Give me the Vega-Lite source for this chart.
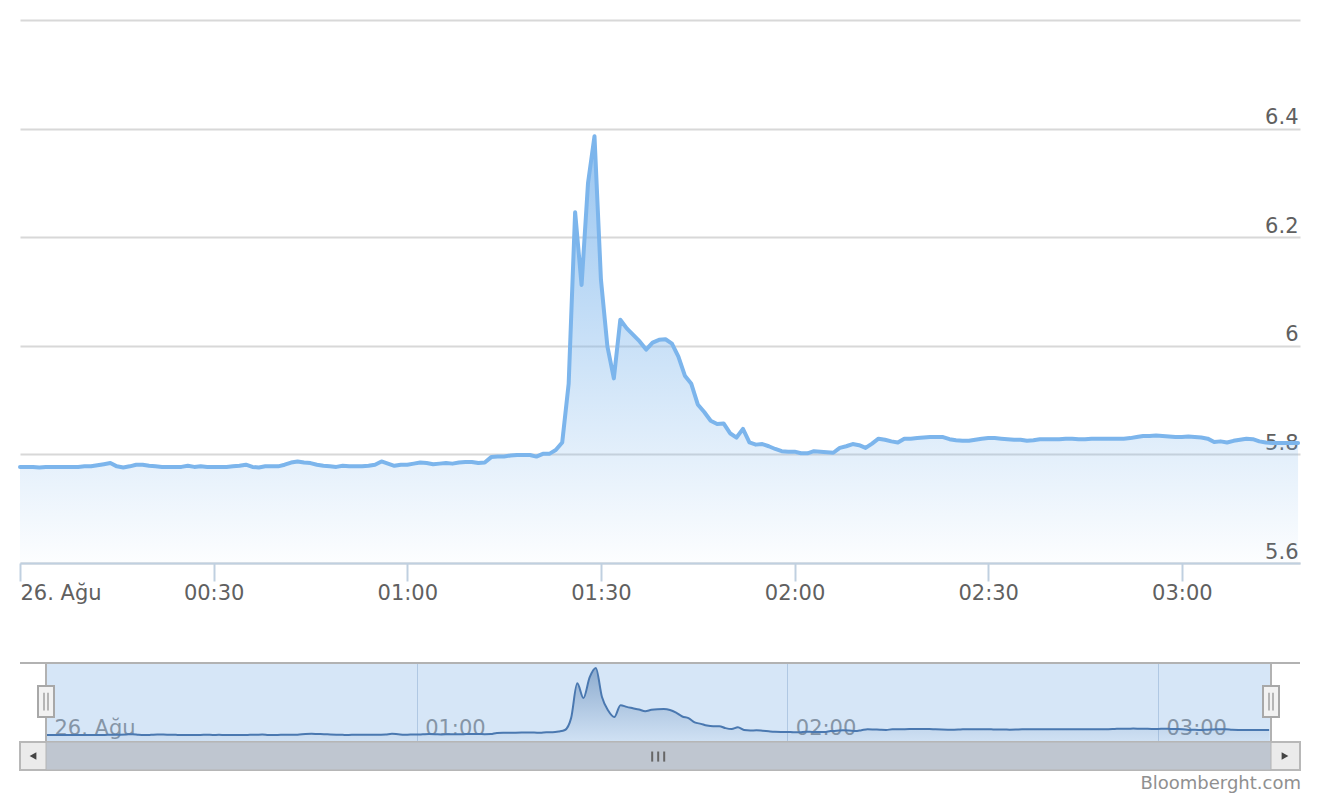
{
  "$schema": "https://vega.github.io/schema/vega-lite/v6.json",
  "padding": {"left": 18, "top": 20, "right": 22, "bottom": 6},
  "background": "white",
  "config": {"view": {"stroke": null}, "font": "DejaVu Sans"},
  "datasets": {
    "rates": [
      {"t":"2019-08-26T00:00Z","v":5.777},{"t":"2019-08-26T00:01Z","v":5.777},{"t":"2019-08-26T00:02Z","v":5.777},{"t":"2019-08-26T00:03Z","v":5.776},{"t":"2019-08-26T00:04Z","v":5.777},
      {"t":"2019-08-26T00:05Z","v":5.777},{"t":"2019-08-26T00:06Z","v":5.777},{"t":"2019-08-26T00:07Z","v":5.777},{"t":"2019-08-26T00:08Z","v":5.777},{"t":"2019-08-26T00:09Z","v":5.777},
      {"t":"2019-08-26T00:10Z","v":5.778},{"t":"2019-08-26T00:11Z","v":5.778},{"t":"2019-08-26T00:12Z","v":5.780},{"t":"2019-08-26T00:13Z","v":5.782},{"t":"2019-08-26T00:14Z","v":5.784},
      {"t":"2019-08-26T00:15Z","v":5.778},{"t":"2019-08-26T00:16Z","v":5.776},{"t":"2019-08-26T00:17Z","v":5.778},{"t":"2019-08-26T00:18Z","v":5.781},{"t":"2019-08-26T00:19Z","v":5.781},
      {"t":"2019-08-26T00:20Z","v":5.779},{"t":"2019-08-26T00:21Z","v":5.778},{"t":"2019-08-26T00:22Z","v":5.777},{"t":"2019-08-26T00:23Z","v":5.777},{"t":"2019-08-26T00:24Z","v":5.777},
      {"t":"2019-08-26T00:25Z","v":5.777},{"t":"2019-08-26T00:26Z","v":5.779},{"t":"2019-08-26T00:27Z","v":5.777},{"t":"2019-08-26T00:28Z","v":5.778},{"t":"2019-08-26T00:29Z","v":5.777},
      {"t":"2019-08-26T00:30Z","v":5.777},{"t":"2019-08-26T00:31Z","v":5.777},{"t":"2019-08-26T00:32Z","v":5.777},{"t":"2019-08-26T00:33Z","v":5.778},{"t":"2019-08-26T00:34Z","v":5.779},
      {"t":"2019-08-26T00:35Z","v":5.781},{"t":"2019-08-26T00:36Z","v":5.777},{"t":"2019-08-26T00:37Z","v":5.776},{"t":"2019-08-26T00:38Z","v":5.778},{"t":"2019-08-26T00:39Z","v":5.778},
      {"t":"2019-08-26T00:40Z","v":5.778},{"t":"2019-08-26T00:41Z","v":5.781},{"t":"2019-08-26T00:42Z","v":5.785},{"t":"2019-08-26T00:43Z","v":5.787},{"t":"2019-08-26T00:44Z","v":5.785},
      {"t":"2019-08-26T00:45Z","v":5.784},{"t":"2019-08-26T00:46Z","v":5.781},{"t":"2019-08-26T00:47Z","v":5.779},{"t":"2019-08-26T00:48Z","v":5.778},{"t":"2019-08-26T00:49Z","v":5.777},
      {"t":"2019-08-26T00:50Z","v":5.779},{"t":"2019-08-26T00:51Z","v":5.778},{"t":"2019-08-26T00:52Z","v":5.778},{"t":"2019-08-26T00:53Z","v":5.778},{"t":"2019-08-26T00:54Z","v":5.779},
      {"t":"2019-08-26T00:55Z","v":5.781},{"t":"2019-08-26T00:56Z","v":5.787},{"t":"2019-08-26T00:57Z","v":5.783},{"t":"2019-08-26T00:58Z","v":5.779},{"t":"2019-08-26T00:59Z","v":5.781},
      {"t":"2019-08-26T01:00Z","v":5.781},{"t":"2019-08-26T01:01Z","v":5.783},{"t":"2019-08-26T01:02Z","v":5.785},{"t":"2019-08-26T01:03Z","v":5.784},{"t":"2019-08-26T01:04Z","v":5.782},
      {"t":"2019-08-26T01:05Z","v":5.783},{"t":"2019-08-26T01:06Z","v":5.784},{"t":"2019-08-26T01:07Z","v":5.783},{"t":"2019-08-26T01:08Z","v":5.785},{"t":"2019-08-26T01:09Z","v":5.786},
      {"t":"2019-08-26T01:10Z","v":5.786},{"t":"2019-08-26T01:11Z","v":5.784},{"t":"2019-08-26T01:12Z","v":5.785},{"t":"2019-08-26T01:13Z","v":5.795},{"t":"2019-08-26T01:14Z","v":5.796},
      {"t":"2019-08-26T01:15Z","v":5.796},{"t":"2019-08-26T01:16Z","v":5.798},{"t":"2019-08-26T01:17Z","v":5.799},{"t":"2019-08-26T01:18Z","v":5.799},{"t":"2019-08-26T01:19Z","v":5.799},
      {"t":"2019-08-26T01:20Z","v":5.796},{"t":"2019-08-26T01:21Z","v":5.801},{"t":"2019-08-26T01:22Z","v":5.801},{"t":"2019-08-26T01:23Z","v":5.808},{"t":"2019-08-26T01:24Z","v":5.822},
      {"t":"2019-08-26T01:25Z","v":5.930},{"t":"2019-08-26T01:26Z","v":6.246},{"t":"2019-08-26T01:27Z","v":6.112},{"t":"2019-08-26T01:28Z","v":6.300},{"t":"2019-08-26T01:29Z","v":6.386},
      {"t":"2019-08-26T01:30Z","v":6.122},{"t":"2019-08-26T01:31Z","v":5.999},{"t":"2019-08-26T01:32Z","v":5.940},{"t":"2019-08-26T01:33Z","v":6.048},{"t":"2019-08-26T01:34Z","v":6.032},
      {"t":"2019-08-26T01:35Z","v":6.020},{"t":"2019-08-26T01:36Z","v":6.008},{"t":"2019-08-26T01:37Z","v":5.993},{"t":"2019-08-26T01:38Z","v":6.006},{"t":"2019-08-26T01:39Z","v":6.011},
      {"t":"2019-08-26T01:40Z","v":6.012},{"t":"2019-08-26T01:41Z","v":6.004},{"t":"2019-08-26T01:42Z","v":5.980},{"t":"2019-08-26T01:43Z","v":5.945},{"t":"2019-08-26T01:44Z","v":5.930},
      {"t":"2019-08-26T01:45Z","v":5.892},{"t":"2019-08-26T01:46Z","v":5.878},{"t":"2019-08-26T01:47Z","v":5.862},{"t":"2019-08-26T01:48Z","v":5.856},{"t":"2019-08-26T01:49Z","v":5.857},
      {"t":"2019-08-26T01:50Z","v":5.839},{"t":"2019-08-26T01:51Z","v":5.831},{"t":"2019-08-26T01:52Z","v":5.847},{"t":"2019-08-26T01:53Z","v":5.822},{"t":"2019-08-26T01:54Z","v":5.818},
      {"t":"2019-08-26T01:55Z","v":5.819},{"t":"2019-08-26T01:56Z","v":5.815},{"t":"2019-08-26T01:57Z","v":5.810},{"t":"2019-08-26T01:58Z","v":5.806},{"t":"2019-08-26T01:59Z","v":5.805},
      {"t":"2019-08-26T02:00Z","v":5.805},{"t":"2019-08-26T02:01Z","v":5.802},{"t":"2019-08-26T02:02Z","v":5.802},{"t":"2019-08-26T02:03Z","v":5.806},{"t":"2019-08-26T02:04Z","v":5.805},
      {"t":"2019-08-26T02:05Z","v":5.804},{"t":"2019-08-26T02:06Z","v":5.803},{"t":"2019-08-26T02:07Z","v":5.812},{"t":"2019-08-26T02:08Z","v":5.815},{"t":"2019-08-26T02:09Z","v":5.819},
      {"t":"2019-08-26T02:10Z","v":5.817},{"t":"2019-08-26T02:11Z","v":5.812},{"t":"2019-08-26T02:12Z","v":5.820},{"t":"2019-08-26T02:13Z","v":5.829},{"t":"2019-08-26T02:14Z","v":5.827},
      {"t":"2019-08-26T02:15Z","v":5.824},{"t":"2019-08-26T02:16Z","v":5.822},{"t":"2019-08-26T02:17Z","v":5.829},{"t":"2019-08-26T02:18Z","v":5.829},{"t":"2019-08-26T02:19Z","v":5.830},
      {"t":"2019-08-26T02:20Z","v":5.831},{"t":"2019-08-26T02:21Z","v":5.832},{"t":"2019-08-26T02:22Z","v":5.832},{"t":"2019-08-26T02:23Z","v":5.832},{"t":"2019-08-26T02:24Z","v":5.828},
      {"t":"2019-08-26T02:25Z","v":5.826},{"t":"2019-08-26T02:26Z","v":5.825},{"t":"2019-08-26T02:27Z","v":5.825},{"t":"2019-08-26T02:28Z","v":5.827},{"t":"2019-08-26T02:29Z","v":5.829},
      {"t":"2019-08-26T02:30Z","v":5.830},{"t":"2019-08-26T02:31Z","v":5.830},{"t":"2019-08-26T02:32Z","v":5.829},{"t":"2019-08-26T02:33Z","v":5.828},{"t":"2019-08-26T02:34Z","v":5.827},
      {"t":"2019-08-26T02:35Z","v":5.827},{"t":"2019-08-26T02:36Z","v":5.825},{"t":"2019-08-26T02:37Z","v":5.826},{"t":"2019-08-26T02:38Z","v":5.828},{"t":"2019-08-26T02:39Z","v":5.828},
      {"t":"2019-08-26T02:40Z","v":5.828},{"t":"2019-08-26T02:41Z","v":5.828},{"t":"2019-08-26T02:42Z","v":5.829},{"t":"2019-08-26T02:43Z","v":5.829},{"t":"2019-08-26T02:44Z","v":5.828},
      {"t":"2019-08-26T02:45Z","v":5.828},{"t":"2019-08-26T02:46Z","v":5.829},{"t":"2019-08-26T02:47Z","v":5.829},{"t":"2019-08-26T02:48Z","v":5.829},{"t":"2019-08-26T02:49Z","v":5.829},
      {"t":"2019-08-26T02:50Z","v":5.829},{"t":"2019-08-26T02:51Z","v":5.829},{"t":"2019-08-26T02:52Z","v":5.830},{"t":"2019-08-26T02:53Z","v":5.832},{"t":"2019-08-26T02:54Z","v":5.834},
      {"t":"2019-08-26T02:55Z","v":5.834},{"t":"2019-08-26T02:56Z","v":5.835},{"t":"2019-08-26T02:57Z","v":5.834},{"t":"2019-08-26T02:58Z","v":5.833},{"t":"2019-08-26T02:59Z","v":5.832},
      {"t":"2019-08-26T03:00Z","v":5.832},{"t":"2019-08-26T03:01Z","v":5.833},{"t":"2019-08-26T03:02Z","v":5.832},{"t":"2019-08-26T03:03Z","v":5.831},{"t":"2019-08-26T03:04Z","v":5.829},
      {"t":"2019-08-26T03:05Z","v":5.823},{"t":"2019-08-26T03:06Z","v":5.824},{"t":"2019-08-26T03:07Z","v":5.822},{"t":"2019-08-26T03:08Z","v":5.825},{"t":"2019-08-26T03:09Z","v":5.827},
      {"t":"2019-08-26T03:10Z","v":5.829},{"t":"2019-08-26T03:11Z","v":5.828},{"t":"2019-08-26T03:12Z","v":5.824},{"t":"2019-08-26T03:13Z","v":5.822},{"t":"2019-08-26T03:14Z","v":5.821},
      {"t":"2019-08-26T03:15Z","v":5.821},{"t":"2019-08-26T03:16Z","v":5.821},{"t":"2019-08-26T03:17Z","v":5.821},{"t":"2019-08-26T03:18Z","v":5.821}
    ]
  },
  "bounds": "flush",
  "spacing": 100,
  "vconcat": [
    {
      "width": 1280,
      "height": 543,
      "data": {"name": "rates"},
      "encoding": {
        "x": {
          "field": "t", "type": "temporal",
          "scale": {"type": "utc", "domain": [
            {"year": 2019, "month": 8, "date": 26, "hours": 0, "minutes": 0, "utc": true},
            {"year": 2019, "month": 8, "date": 26, "hours": 3, "minutes": 18, "seconds": 18, "utc": true}
          ]},
          "axis": {
            "title": null,
            "values": [
              {"year": 2019, "month": 8, "date": 26, "hours": 0, "minutes": 0, "utc": true},
              {"year": 2019, "month": 8, "date": 26, "hours": 0, "minutes": 30, "utc": true},
              {"year": 2019, "month": 8, "date": 26, "hours": 1, "minutes": 0, "utc": true},
              {"year": 2019, "month": 8, "date": 26, "hours": 1, "minutes": 30, "utc": true},
              {"year": 2019, "month": 8, "date": 26, "hours": 2, "minutes": 0, "utc": true},
              {"year": 2019, "month": 8, "date": 26, "hours": 2, "minutes": 30, "utc": true},
              {"year": 2019, "month": 8, "date": 26, "hours": 3, "minutes": 0, "utc": true}
            ],
            "grid": false,
            "domain": true, "domainColor": "#c0d0e0", "domainWidth": 2,
            "ticks": true, "tickColor": "#c0d0e0", "tickWidth": 2, "tickSize": 18,
            "labelFlush": true, "labelOverlap": false,
            "labelFont": "DejaVu Sans", "labelFontSize": 21, "labelColor": "#606060", "labelPadding": 1,
            "labelExpr": "utcFormat(datum.value, '%H:%M') == '00:00' ? '26. Ağu' : utcFormat(datum.value, '%H:%M')",
            "zindex": 1
          }
        },
        "y": {
          "field": "v", "type": "quantitative",
          "scale": {"domain": [5.6, 6.6], "zero": false, "nice": false},
          "axis": {
            "title": null, "orient": "right",
            "values": [5.6, 5.8, 6.0, 6.2, 6.4, 6.6],
            "grid": true, "gridColor": "#d8d8d8", "gridWidth": 2,
            "domain": false, "ticks": false, "tickSize": 0,
            "labelAlign": "right", "labelBaseline": "alphabetic", "labelPadding": -2, "labelOffset": -5,
            "labelFont": "DejaVu Sans", "labelFontSize": 21, "labelColor": "#606060",
            "labelExpr": "datum.value > 6.5 ? '' : format(datum.value, '.1~f')"
          }
        }
      },
      "layer": [
        {
          "mark": {
            "type": "area",
            "color": {"gradient": "linear", "x1": 0, "y1": 0, "x2": 0, "y2": 1,
              "stops": [{"offset": 0, "color": "rgba(124,181,236,0.78)"}, {"offset": 1, "color": "rgba(124,181,236,0.02)"}]}
          },
          "encoding": {"y2": {"datum": 5.6}}
        },
        {
          "mark": {"type": "line", "color": "#7cb5ec", "strokeWidth": 4, "strokeJoin": "round", "strokeCap": "round"}
        }
      ]
    },
    {
      "bounds": "flush",
      "spacing": 0,
      "vconcat": [
        {
          "width": 1280,
          "height": 79,
          "layer": [
            {
              "data": {"values": [{}]},
              "mark": {"type": "rect", "color": "#76ace4", "opacity": 0.3},
              "encoding": {
                "x": {
                  "datum": {"year": 2019, "month": 8, "date": 26, "hours": 0, "minutes": 0, "utc": true}, "type": "temporal",
                  "scale": {"type": "utc", "domain": [
                    {"year": 2019, "month": 8, "date": 26, "hours": 0, "minutes": 0, "utc": true},
                    {"year": 2019, "month": 8, "date": 26, "hours": 3, "minutes": 18, "seconds": 18, "utc": true}
                  ], "range": [26, 1251]},
                  "axis": {
                    "title": null,
                    "values": [
                      {"year": 2019, "month": 8, "date": 26, "hours": 0, "minutes": 0, "utc": true},
                      {"year": 2019, "month": 8, "date": 26, "hours": 1, "minutes": 0, "utc": true},
                      {"year": 2019, "month": 8, "date": 26, "hours": 2, "minutes": 0, "utc": true},
                      {"year": 2019, "month": 8, "date": 26, "hours": 3, "minutes": 0, "utc": true}
                    ],
                    "grid": true, "gridColor": "#c9d5e3", "gridWidth": 1,
                    "domain": false, "ticks": false, "tickSize": 0,
                    "labelAlign": "left", "labelBaseline": "alphabetic", "labelPadding": -8, "labelOffset": 8,
                    "labelOverlap": false, "labelFlush": false,
                    "labelFont": "DejaVu Sans", "labelFontSize": 21, "labelColor": "#8c8c8c",
                    "labelExpr": "utcFormat(datum.value, '%H:%M') == '00:00' ? '26. Ağu' : utcFormat(datum.value, '%H:%M')"
                  }
                },
                "x2": {"datum": {"year": 2019, "month": 8, "date": 26, "hours": 3, "minutes": 18, "seconds": 18, "utc": true}}
              }
            },
            {
              "data": {"name": "rates"},
              "mark": {
                "type": "area", "interpolate": "monotone",
                "color": {"gradient": "linear", "x1": 0, "y1": 0, "x2": 0, "y2": 1,
                  "stops": [{"offset": 0, "color": "rgba(69,114,167,0.5)"}, {"offset": 1, "color": "rgba(69,114,167,0.04)"}]}
              },
              "encoding": {
                "x": {"field": "t", "type": "temporal"},
                "y": {"field": "v", "type": "quantitative", "scale": {"domain": [5.713, 6.431], "zero": false, "nice": false}, "axis": null},
                "y2": {"datum": 5.713}
              }
            },
            {
              "data": {"name": "rates"},
              "mark": {"type": "line", "interpolate": "monotone", "color": "#4a78b0", "strokeWidth": 2},
              "encoding": {
                "x": {"field": "t", "type": "temporal"},
                "y": {"field": "v", "type": "quantitative"}
              }
            },
            {
              "data": {"values": [{}]},
              "mark": {"type": "rule", "color": "#b2b2b2", "strokeWidth": 2},
              "encoding": {"y": {"datum": 6.431, "type": "quantitative"}}
            },
            {
              "data": {"values": [{}]},
              "mark": {"type": "rule", "color": "#b2b2b2", "strokeWidth": 2},
              "encoding": {"x": {"datum": {"year": 2019, "month": 8, "date": 26, "hours": 0, "minutes": 0, "utc": true}, "type": "temporal"}}
            },
            {
              "data": {"values": [{}]},
              "mark": {"type": "rule", "color": "#b2b2b2", "strokeWidth": 2},
              "encoding": {"x": {"datum": {"year": 2019, "month": 8, "date": 26, "hours": 3, "minutes": 18, "seconds": 18, "utc": true}, "type": "temporal"}}
            },
            {
              "data": {"values": [{}]},
              "mark": {"type": "rect", "width": 16, "height": 31, "fill": "#f2f2f2", "stroke": "#a8a8a8", "strokeWidth": 2},
              "encoding": {
                "x": {"datum": {"year": 2019, "month": 8, "date": 26, "hours": 0, "minutes": 0, "utc": true}, "type": "temporal"},
                "y": {"datum": 6.081, "type": "quantitative"}
              }
            },
            {
              "data": {"values": [{}]},
              "mark": {"type": "rect", "width": 16, "height": 31, "fill": "#f2f2f2", "stroke": "#a8a8a8", "strokeWidth": 2},
              "encoding": {
                "x": {"datum": {"year": 2019, "month": 8, "date": 26, "hours": 3, "minutes": 18, "seconds": 18, "utc": true}, "type": "temporal"},
                "y": {"datum": 6.081, "type": "quantitative"}
              }
            },
            {
              "data": {"values": [{}]},
              "mark": {"type": "rule", "color": "#a0a0a0", "strokeWidth": 1.5, "xOffset": -2},
              "encoding": {
                "x": {"datum": {"year": 2019, "month": 8, "date": 26, "hours": 0, "minutes": 0, "utc": true}, "type": "temporal"},
                "y": {"datum": 6.0, "type": "quantitative"},
                "y2": {"datum": 6.16}
              }
            },
            {
              "data": {"values": [{}]},
              "mark": {"type": "rule", "color": "#a0a0a0", "strokeWidth": 1.5, "xOffset": 2},
              "encoding": {
                "x": {"datum": {"year": 2019, "month": 8, "date": 26, "hours": 0, "minutes": 0, "utc": true}, "type": "temporal"},
                "y": {"datum": 6.0, "type": "quantitative"},
                "y2": {"datum": 6.16}
              }
            },
            {
              "data": {"values": [{}]},
              "mark": {"type": "rule", "color": "#a0a0a0", "strokeWidth": 1.5, "xOffset": -2},
              "encoding": {
                "x": {"datum": {"year": 2019, "month": 8, "date": 26, "hours": 3, "minutes": 18, "seconds": 18, "utc": true}, "type": "temporal"},
                "y": {"datum": 6.0, "type": "quantitative"},
                "y2": {"datum": 6.16}
              }
            },
            {
              "data": {"values": [{}]},
              "mark": {"type": "rule", "color": "#a0a0a0", "strokeWidth": 1.5, "xOffset": 2},
              "encoding": {
                "x": {"datum": {"year": 2019, "month": 8, "date": 26, "hours": 3, "minutes": 18, "seconds": 18, "utc": true}, "type": "temporal"},
                "y": {"datum": 6.0, "type": "quantitative"},
                "y2": {"datum": 6.16}
              }
            }
          ]
        },
        {
          "width": 1280,
          "height": 28,
          "data": {"values": [{}]},
          "title": {"text": "Bloomberght.com", "orient": "bottom", "anchor": "end", "font": "DejaVu Sans", "fontSize": 18, "fontWeight": "normal", "color": "#909090", "offset": 4},
          "layer": [
            {
              "mark": {"type": "rect", "fill": "#ebebeb", "stroke": "#b8b8b8", "strokeWidth": 2},
              "encoding": {}
            },
            {
              "mark": {"type": "rect", "fill": "#bfc6d0", "stroke": "#b4b4b4", "strokeWidth": 1},
              "encoding": {
                "x": {
                  "datum": {"year": 2019, "month": 8, "date": 26, "hours": 0, "minutes": 0, "utc": true}, "type": "temporal",
                  "scale": {"type": "utc", "domain": [
                    {"year": 2019, "month": 8, "date": 26, "hours": 0, "minutes": 0, "utc": true},
                    {"year": 2019, "month": 8, "date": 26, "hours": 3, "minutes": 18, "seconds": 18, "utc": true}
                  ], "range": [26, 1251]},
                  "axis": null
                },
                "x2": {"datum": {"year": 2019, "month": 8, "date": 26, "hours": 3, "minutes": 18, "seconds": 18, "utc": true}}
              }
            },
            {
              "mark": {"type": "point", "shape": "triangle-left", "filled": true, "color": "#444444", "size": 60, "opacity": 1, "xOffset": -13},
              "encoding": {
                "x": {"datum": {"year": 2019, "month": 8, "date": 26, "hours": 0, "minutes": 0, "utc": true}, "type": "temporal"}
              }
            },
            {
              "mark": {"type": "point", "shape": "triangle-right", "filled": true, "color": "#444444", "size": 60, "opacity": 1, "xOffset": 14},
              "encoding": {
                "x": {"datum": {"year": 2019, "month": 8, "date": 26, "hours": 3, "minutes": 18, "seconds": 18, "utc": true}, "type": "temporal"}
              }
            },
            {
              "mark": {"type": "rule", "color": "#666666", "strokeWidth": 2, "xOffset": -6},
              "encoding": {
                "x": {"datum": {"year": 2019, "month": 8, "date": 26, "hours": 1, "minutes": 39, "seconds": 6, "utc": true}, "type": "temporal"},
                "y": {"datum": 0.3, "type": "quantitative", "scale": {"domain": [0, 1]}, "axis": null},
                "y2": {"datum": 0.66}
              }
            },
            {
              "mark": {"type": "rule", "color": "#666666", "strokeWidth": 2, "xOffset": 0},
              "encoding": {
                "x": {"datum": {"year": 2019, "month": 8, "date": 26, "hours": 1, "minutes": 39, "seconds": 6, "utc": true}, "type": "temporal"},
                "y": {"datum": 0.3, "type": "quantitative"},
                "y2": {"datum": 0.66}
              }
            },
            {
              "mark": {"type": "rule", "color": "#666666", "strokeWidth": 2, "xOffset": 6},
              "encoding": {
                "x": {"datum": {"year": 2019, "month": 8, "date": 26, "hours": 1, "minutes": 39, "seconds": 6, "utc": true}, "type": "temporal"},
                "y": {"datum": 0.3, "type": "quantitative"},
                "y2": {"datum": 0.66}
              }
            }
          ]
        }
      ]
    }
  ]
}
